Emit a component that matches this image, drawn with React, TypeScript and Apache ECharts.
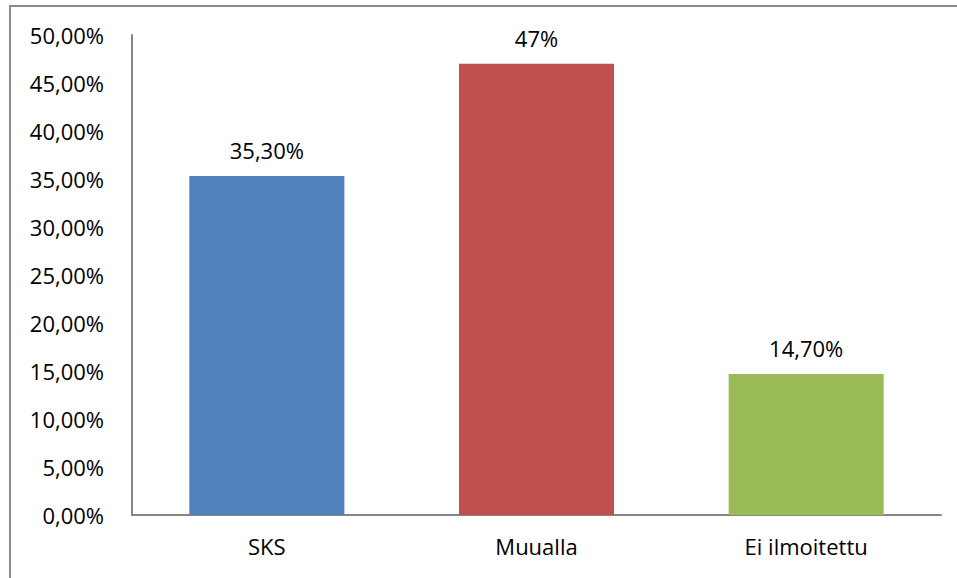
import React, { useEffect, useRef } from "react";
import * as echarts from "echarts";

const categories: string[] = ["SKS", "Muualla", "Ei ilmoitettu"];
const values: number[] = [35.3, 47, 14.7];
const valueLabels: string[] = ["35,30%", "47%", "14,70%"];
const barColors: string[] = ["#4F81BD", "#C0504D", "#9BBB59"];
const yMin = 0;
const yMax = 50;
const yStep = 5;

const FONT = "'Open Sans', 'Noto Sans', sans-serif";

export default function App() {
  const ref = useRef<HTMLDivElement | null>(null);

  useEffect(() => {
    document.body.style.margin = "0";
    if (!ref.current) return;
    const chart = echarts.init(ref.current, undefined, { renderer: "svg" });
    chart.setOption({
      animation: false,
      backgroundColor: "#ffffff",
      textStyle: { fontFamily: FONT },
      grid: { left: 132, top: 35, right: 16, bottom: 63, containLabel: false },
      graphic: [
        {
          type: "rect",
          shape: { x: 10, y: 6, width: 980, height: 620 },
          style: { fill: "none", stroke: "#8A8A8A", lineWidth: 2 },
          silent: true,
          z: -1,
        },
      ],
      xAxis: {
        type: "category",
        data: categories,
        axisLine: { show: true, lineStyle: { color: "#868686", width: 2 } },
        axisTick: { show: false },
        axisLabel: { color: "#000", fontSize: 22, fontFamily: FONT, margin: 20 },
      },
      yAxis: {
        type: "value",
        min: yMin,
        max: yMax,
        interval: yStep,
        axisLine: { show: true, lineStyle: { color: "#868686", width: 2 } },
        axisTick: { show: false },
        splitLine: { show: false },
        axisLabel: {
          color: "#000",
          fontSize: 22,
          fontFamily: FONT,
          margin: 28,
          formatter: (v: number) => v.toFixed(2).replace(".", ",") + "%",
        },
      },
      series: [
        {
          type: "bar",
          barWidth: "57.5%",
          data: values.map((v, i) => ({
            value: v,
            itemStyle: { color: barColors[i] },
            label: { formatter: valueLabels[i] },
          })),
          label: {
            show: true,
            position: "top",
            distance: 15,
            color: "#000",
            fontSize: 22,
            fontFamily: FONT,
          },
        },
      ],
    });
    return () => chart.dispose();
  }, []);

  return <div ref={ref} style={{ width: 957, height: 578 }} />;
}
